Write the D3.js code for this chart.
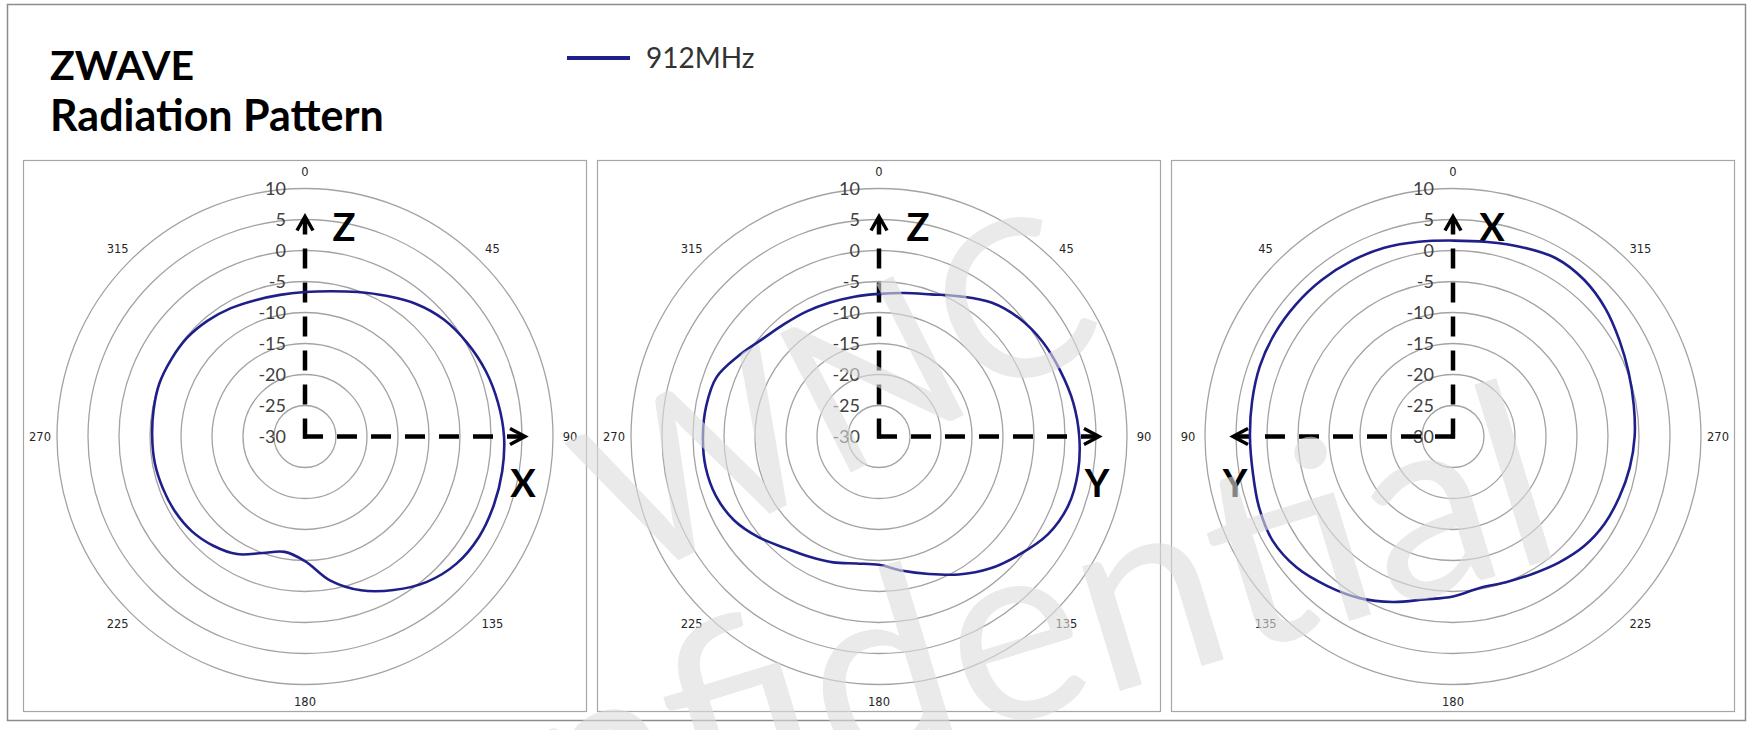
<!DOCTYPE html>
<html>
<head>
<meta charset="utf-8">
<script src="https://cdn.jsdelivr.net/npm/d3@7"></script>
<style>
    body { margin: 0; background: #fff; }
    svg { display: block; }
</style>
</head>
<body>
<svg id="drawing_region"></svg>
<script>
const angles = [0,10,20,30,40,50,60,70,80,90,100,110,120,130,140,150,160,170,
                180,190,200,210,220,230,240,250,260,270,280,290,300,310,320,330,340,350];
const gainXZ = [-6.7,-6.2,-5.2,-3.8,-2.1,-0.7,0.2,1.0,1.6,2.1,2.3,2.4,2.4,1.9,0.6,-1.4,-3.6,-6.4,
                -9.9,-11.1,-10.0,-8.1,-7.0,-6.2,-5.8,-5.6,-5.4,-5.35,-5.2,-5.0,-5.1,-5.2,-5.6,-6.1,-6.6,-6.8];
const gainYZ = [-7.0,-6.5,-5.6,-3.9,-1.8,-0.4,0.5,1.1,1.8,2.3,2.6,2.5,1.5,-0.4,-2.2,-4.3,-6.4,-8.0,
                -9.3,-9.2,-8.4,-7.6,-6.5,-4.7,-3.0,-2.0,-1.6,-1.6,-1.7,-2.1,-3.9,-5.5,-6.3,-6.7,-7.0,-7.1];
const gainXY = [1.6,1.9,2.4,2.7,2.95,3.1,3.2,3.15,2.9,2.75,2.8,3.3,3.6,2.9,1.5,0.1,-1.6,-3.3,
                -4.2,-5.2,-5.0,-4.4,-3.45,-2.45,-1.8,-1.45,-1.05,-0.7,-0.4,0.15,1.0,2.1,2.95,3.2,2.5,1.85];

const ringTicks = [10,5,0,-5,-10,-15,-20,-25,-30];
const angleTicks = [0,45,90,135,180,225,270,315];
const seriesName = '912MHz';
const titleLines = ['ZWAVE','Radiation Pattern'];
const watermarkLines = ['WNC','Confidential'];

const panels = [
    { data: gainXZ, dir:  1, upLabel: 'Z', sideLabel: 'X' },
    { data: gainYZ, dir:  1, upLabel: 'Z', sideLabel: 'Y' },
    { data: gainXY, dir: -1, upLabel: 'X', sideLabel: 'Y' }
];

const svg = d3.select('#drawing_region')
    .attr('width', 1749)
    .attr('height', 730);

// outer frame
svg.append('rect')
    .attr('x', 7.5).attr('y', 4.5)
    .attr('width', 1738).attr('height', 716)
    .attr('fill', '#fff')
    .attr('stroke', '#8c8c8c')
    .attr('stroke-width', 1.5);

// title
svg.selectAll('text.title')
    .data(titleLines)
    .enter()
    .append('text')
    .attr('class', 'title')
    .attr('x', 50)
    .attr('y', (d,i) => 80 + i*51)
    .attr('font-family', 'Lato, sans-serif')
    .attr('font-weight', 'bold')
    .attr('font-size', (d,i) => i === 0 ? 41 : 43)
    .attr('fill', '#000')
    .text(d => d);

// legend
svg.append('line')
    .attr('x1', 567).attr('x2', 630)
    .attr('y1', 58).attr('y2', 58)
    .attr('stroke', '#1f1f8a')
    .attr('stroke-width', 4);
svg.append('text')
    .attr('x', 646).attr('y', 58)
    .attr('dy', '0.35em')
    .attr('font-family', 'Lato, sans-serif')
    .attr('font-size', 28)
    .attr('fill', '#333')
    .text(seriesName);

class PolarChart {

    constructor( config, panel ) {
        this.config = {
            parent: config.parent,
            x: config.x,
            y: config.y,
            width: config.width || 563,
            height: config.height || 551,
            radius: config.radius || 248
        };
        this.panel = panel;
        this.init();
    }

    init() {
        let self = this;

        self.g = self.config.parent.append('g')
            .attr('transform', `translate(${self.config.x}, ${self.config.y})`);

        self.g.append('rect')
            .attr('x', 0.5).attr('y', 0.5)
            .attr('width', self.config.width)
            .attr('height', self.config.height)
            .attr('fill', '#fff')
            .attr('stroke', '#a6a6a6')
            .attr('stroke-width', 1.2);

        self.chart = self.g.append('g')
            .attr('transform', `translate(${self.config.width/2 + 0.5}, ${self.config.height/2 + 1})`);

        self.rscale = d3.scaleLinear()
            .domain([-30, 10])
            .range([0, self.config.radius]);

        self.ascale = d3.scaleLinear()
            .domain([0, 360])
            .range([0, 2*Math.PI * self.panel.dir]);

        self.line = d3.lineRadial()
            .angle((d,i) => self.ascale(angles[i]))
            .radius(d => self.rscale(d))
            .curve(d3.curveCatmullRomClosed.alpha(0.5));
    }

    update() {
        let self = this;
        self.render();
    }

    render() {
        let self = this;
        const R = self.config.radius;

        // rings
        self.chart.selectAll('circle.ring')
            .data(ringTicks.filter(d => d > -30))
            .enter()
            .append('circle')
            .attr('class', 'ring')
            .attr('r', d => self.rscale(d))
            .attr('fill', 'none')
            .attr('stroke', '#a3a3a3')
            .attr('stroke-width', 1.3);

        // value labels along the vertical axis
        self.chart.selectAll('text.rtick')
            .data(ringTicks)
            .enter()
            .append('text')
            .attr('class', 'rtick')
            .attr('x', -19)
            .attr('y', d => -self.rscale(d))
            .attr('dy', '0.36em')
            .attr('text-anchor', 'end')
            .attr('font-family', 'Lato, sans-serif')
            .attr('font-size', 18)
            .attr('fill', '#404040')
            .text(d => d);

        // angle labels
        const lr = R + 17;
        self.chart.selectAll('text.atick')
            .data(angleTicks)
            .enter()
            .append('text')
            .attr('class', 'atick')
            .attr('x', d => lr * Math.sin(self.ascale(d)))
            .attr('y', d => -lr * Math.cos(self.ascale(d)))
            .attr('dy', '0.36em')
            .attr('text-anchor', 'middle')
            .attr('font-family', '"DejaVu Sans", sans-serif')
            .attr('font-size', 11.5)
            .attr('fill', '#262626')
            .text(d => d);

        // axis arrows
        const ar = self.rscale(5) + 3;
        const sd = self.panel.dir;
        const axes = self.chart.append('g')
            .attr('stroke', '#000')
            .attr('fill', 'none')
            .attr('stroke-width', 4.5);
        axes.append('line')
            .attr('x1', 0).attr('y1', 2)
            .attr('x2', 0).attr('y2', -ar + 2)
            .attr('stroke-dasharray', '20,14');
        axes.append('line')
            .attr('x1', -2*sd).attr('y1', 0)
            .attr('x2', sd*(ar - 2)).attr('y2', 0)
            .attr('stroke-dasharray', '20,14');
        axes.append('path')
            .attr('stroke-width', 3.5)
            .attr('d', `M-8,${-ar+14}L0,${-ar}L8,${-ar+14}`);
        axes.append('path')
            .attr('stroke-width', 3.5)
            .attr('d', `M${sd*(ar-15)},-8L${sd*ar},0L${sd*(ar-15)},8`);

        self.chart.append('text')
            .attr('x', 39).attr('y', -196)
            .attr('text-anchor', 'middle')
            .attr('font-family', 'Lato, sans-serif')
            .attr('font-weight', 'bold')
            .attr('font-size', 38)
            .attr('fill', '#000')
            .text(self.panel.upLabel);
        self.chart.append('text')
            .attr('x', sd*218).attr('y', 60)
            .attr('text-anchor', 'middle')
            .attr('font-family', 'Lato, sans-serif')
            .attr('font-weight', 'bold')
            .attr('font-size', 38)
            .attr('fill', '#000')
            .text(self.panel.sideLabel);

        // pattern
        self.chart.append('path')
            .datum(self.panel.data)
            .attr('d', self.line)
            .attr('fill', 'none')
            .attr('stroke', '#1f1f8a')
            .attr('stroke-width', 2.6);
    }
}

panels.forEach((p, i) => {
    const chart = new PolarChart({ parent: svg, x: 23 + i*574, y: 160 }, p);
    chart.update();
});

// watermark, two lines laid across the middle and right panels
const wmPlace = [
    { tx: 836, ty: 392, rot: -27, size: 218, dy: '0.36em' },
    { tx: 914, ty: 754, rot: -17, size: 257, dy: '0' }
];
svg.append('g')
    .attr('opacity', 0.6)
    .attr('pointer-events', 'none')
    .selectAll('text')
    .data(watermarkLines)
    .enter()
    .append('text')
    .attr('transform', (d,i) => `translate(${wmPlace[i].tx}, ${wmPlace[i].ty}) rotate(${wmPlace[i].rot})`)
    .attr('dy', (d,i) => wmPlace[i].dy)
    .attr('text-anchor', 'middle')
    .attr('font-family', 'Lato, sans-serif')
    .attr('font-size', (d,i) => wmPlace[i].size)
    .attr('fill', '#dddddd')
    .text(d => d);
</script>
</body>
</html>
